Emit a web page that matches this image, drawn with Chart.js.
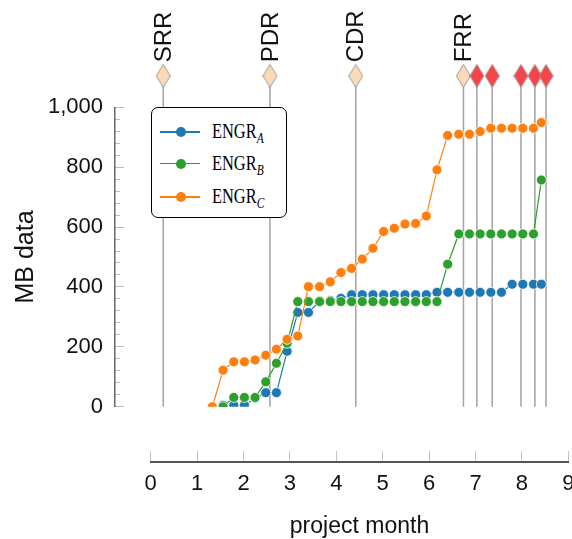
<!DOCTYPE html>
<html>
<head>
<meta charset="utf-8">
<script src="https://cdn.jsdelivr.net/npm/chart.js@4/dist/chart.umd.min.js"></script>
<style>
  html, body { margin: 0; padding: 0; background: #fff; }
  #wrap { position: relative; width: 572px; height: 539px; overflow: hidden; }
  #legend {
    position: absolute; left: 151px; top: 107px; width: 136px; height: 111px;
    box-sizing: border-box; border: 1.5px solid #000; border-radius: 7px; background: #fff;
  }
  .row { position: absolute; left: 0; width: 100%; height: 24px; }
  .ln { position: absolute; left: 8px; width: 40px; height: 1.5px; top: 11px; }
  .dot { position: absolute; left: 23.5px; top: 7px; width: 10px; height: 10px; border-radius: 50%; }
  .txt { position: absolute; left: 60px; top: -1px; font-family: "Liberation Serif", "Times New Roman", serif;
         font-size: 20px; line-height: 24px; color: #000; white-space: nowrap;
         transform: scaleX(0.82); transform-origin: 0 50%; }
  .txt i { font-size: 14px; position: relative; top: 5px; }
</style>
</head>
<body>
<div id="wrap">
  <canvas id="c" width="572" height="539"></canvas>
  <div id="legend"></div>
</div>
<script>
// ---------------- data ----------------
const weekMonths = [1.33,1.56,1.79,2.02,2.25,2.48,2.71,2.94,3.17,3.40,3.64,3.87,4.10,4.33,4.56,4.79,
                    5.02,5.25,5.48,5.71,5.94,6.17,6.40,6.64,6.87,7.10,7.33,7.56,7.79,8.02,8.25,8.42];
const engrA = [null,5,5,5,28,47,47,185,315,315, 352,355,362,374,374,374,374,374,374,374,
               374,382,382,382,382,382,382,382,409,409, 409,409];
const engrB = [null,0,31,31,31,83,145,212,351,351, 351,351,351,351,351,351,351,351,351,351,
               351,351,476,577,577,577,577,577,577,577, 577,757];
const engrC = [0,122,150,150,156,172,192,225,236,401, 401,417,448,462,493,529,585,596,610,612,
               637,791,906,910,910,919,930,930,930,930, 930,949];
const seriesNames = ['ENGR_A', 'ENGR_B', 'ENGR_C'];

const milestoneMonths = [0.27, 2.57, 4.42, 6.74, 7.03, 7.36, 7.98, 8.28, 8.52];
const milestoneNames  = ['SRR', 'PDR', 'CDR', 'FRR', '', '', '', '', ''];
const milestoneKinds  = ['review','review','review','review','event','event','event','event','event'];

const xTickValues = [0,1,2,3,4,5,6,7,8,9];
const yTickValues = [0,200,400,600,800,1000];
const xTitle = 'project month';
const yTitle = 'MB data';

// ---------------- styling ----------------
const FONT = '"Liberation Sans", Arial, Helvetica, sans-serif';
Chart.defaults.font.family = FONT;
const colors = ['#1f77b4', '#2ca02c', '#ff7f0e'];
const MILESTONE_LEVEL = 1105;   // data height of the milestone markers (above plot)

function diamond(fill) {
  const w = 15, h = 24;
  const c = document.createElement('canvas');
  c.width = w; c.height = h;
  const g = c.getContext('2d');
  g.beginPath();
  g.moveTo(w / 2, 0.5); g.lineTo(w - 0.5, h / 2); g.lineTo(w / 2, h - 0.5); g.lineTo(0.5, h / 2); g.closePath();
  g.fillStyle = fill; g.fill();
  g.strokeStyle = '#9a9a9a'; g.lineWidth = 1; g.stroke();
  return c;
}
const peachDiamond = diamond('#fdd9b8');
const redDiamond = diamond('#f4464a');

const series = [engrA, engrB, engrC].map((vals, i) => ({
  type: 'line',
  label: seriesNames[i],
  data: weekMonths.map((m, k) => ({ x: m, y: vals[k] })).filter(p => p.y !== null),
  borderColor: colors[i],
  backgroundColor: colors[i],
  borderWidth: 1.2,
  pointRadius: 5,
  pointHoverRadius: 5,
  pointBorderColor: '#ffffff',
  pointBorderWidth: 0.8,
  pointBackgroundColor: colors[i],
  order: 3 - i,
  xAxisID: 'x', yAxisID: 'y'
}));

const msLines = [];
milestoneMonths.forEach(m => { msLines.push({x: m, y: 0}, {x: m, y: MILESTONE_LEVEL - 10}, {x: m, y: null}); });

const datasets = [
  ...series,
  {
    type: 'line', label: 'milestone lines', data: msLines, spanGaps: false,
    borderColor: '#a8a8a8', borderWidth: 1.6, pointRadius: 0, clip: false, order: 10,
    xAxisID: 'x', yAxisID: 'y'
  },
  {
    type: 'line', label: 'milestones', showLine: false, clip: false, order: 0,
    data: milestoneMonths.map(m => ({x: m, y: MILESTONE_LEVEL})),
    pointStyle: milestoneKinds.map(k => k === 'review' ? peachDiamond : redDiamond),
    pointRadius: 7, xAxisID: 'x', yAxisID: 'y'
  }
];
const MS_INDEX = datasets.length - 1;

const milestonePlugin = {
  id: 'milestoneMarks',
  afterDatasetsDraw(chart) {
    const {ctx} = chart;
    // draw the milestone point elements (they sit above the plot area)
    const full = { left: 0, top: 0, right: chart.width, bottom: chart.height };
    chart.getDatasetMeta(MS_INDEX).data.forEach(p => p.draw(ctx, full));
    // labels
    const xs = chart.scales.x, ys = chart.scales.y;
    ctx.save();
    ctx.font = '24px ' + FONT;
    ctx.fillStyle = '#111';
    ctx.textAlign = 'left';
    ctx.textBaseline = 'middle';
    milestoneMonths.forEach((m, i) => {
      const name = milestoneNames[i];
      if (!name) return;
      const px = xs.getPixelForValue(m);
      const py = ys.getPixelForValue(MILESTONE_LEVEL) - 13.5;
      ctx.save();
      ctx.translate(px + 1, py);
      ctx.rotate(-Math.PI / 2);
      ctx.fillText(name, 0, 0);
      ctx.restore();
    });
    ctx.restore();
  }
};

const X_AXIS_LEVEL = -185;   // y-data level where the detached x-axis sits
const Y_AXIS_AT = -0.785;    // x-data level where the detached y-axis sits
const noPad = s => { s.paddingLeft = 0; s.paddingRight = 0; s.paddingTop = 0; s.paddingBottom = 0; };

const chart = new Chart(document.getElementById('c'), {
  data: { datasets },
  options: {
    responsive: false,
    animation: false,
    events: [],
    layout: { autoPadding: false, padding: { left: 0, top: 107.3, right: 3.7, bottom: 132.3 } },
    plugins: { legend: { display: false }, tooltip: { enabled: false } },
    scales: {
      x: {
        type: 'linear', axis: 'x', min: 0, max: 9,
        position: { y: X_AXIS_LEVEL },
        afterBuildTicks: s => { s.ticks = xTickValues.map(v => ({ value: v })); },
        afterFit: noPad,
        grid: { drawOnChartArea: false, drawTicks: true, tickLength: -12, tickColor: '#c4c4c4', tickWidth: 1 },
        border: { display: true, color: '#555', width: 2 },
        ticks: { padding: 21, autoSkip: false, maxRotation: 0, color: '#111', font: { size: 22 } },
        title: { display: true, text: xTitle, color: '#111', font: { size: 23 }, padding: { top: -6, bottom: 0 } }
      },
      y: {
        type: 'linear', axis: 'y', position: 'left', min: 0, max: 1000,
        afterBuildTicks: s => { s.ticks = yTickValues.map(v => ({ value: v })); },
        afterFit: s => { s.width = 150.7; },
        grid: { display: false, drawTicks: false },
        border: { display: false },
        ticks: { padding: 47.7, color: '#111', font: { size: 22 },
                 callback: v => Number(v).toLocaleString('en-US') },
        title: { display: true, text: yTitle, color: '#111', font: { size: 25 }, padding: { top: 11, bottom: 0 } }
      },
      yMinor: {
        type: 'linear', axis: 'y', min: 0, max: 1000,
        position: { x: Y_AXIS_AT },
        afterFit: s => { noPad(s); s.width = 0; },
        ticks: { display: false, stepSize: 40 },
        grid: { drawOnChartArea: false, drawTicks: true, tickLength: -6, tickColor: '#bdbdbd', tickWidth: 1 },
        border: { display: true, color: '#666', width: 1.5 }
      },
      yMajor: {
        type: 'linear', axis: 'y', min: 0, max: 1000,
        position: { x: Y_AXIS_AT },
        afterBuildTicks: s => { s.ticks = yTickValues.map(v => ({ value: v })); },
        afterFit: s => { noPad(s); s.width = 0; },
        ticks: { display: false },
        grid: { drawOnChartArea: false, drawTicks: true, tickLength: -10, tickColor: '#bdbdbd', tickWidth: 1 },
        border: { display: false }
      }
    }
  },
  plugins: [milestonePlugin]
});

// ---------------- HTML legend (for subscripts) ----------------
const legend = document.getElementById('legend');
const rowCenters = [24, 55.5, 89];
chart.data.datasets.slice(0, 3).forEach((ds, i) => {
  const [base, sub] = ds.label.split('_');
  const row = document.createElement('div');
  row.className = 'row';
  row.style.top = (rowCenters[i] - 12) + 'px';
  row.innerHTML = '<div class="ln" style="background:' + ds.borderColor + '"></div>' +
                  '<div class="dot" style="background:' + ds.backgroundColor + '"></div>' +
                  '<span class="txt">' + base + '<i>' + sub + '</i></span>';
  legend.appendChild(row);
});
</script>
</body>
</html>
